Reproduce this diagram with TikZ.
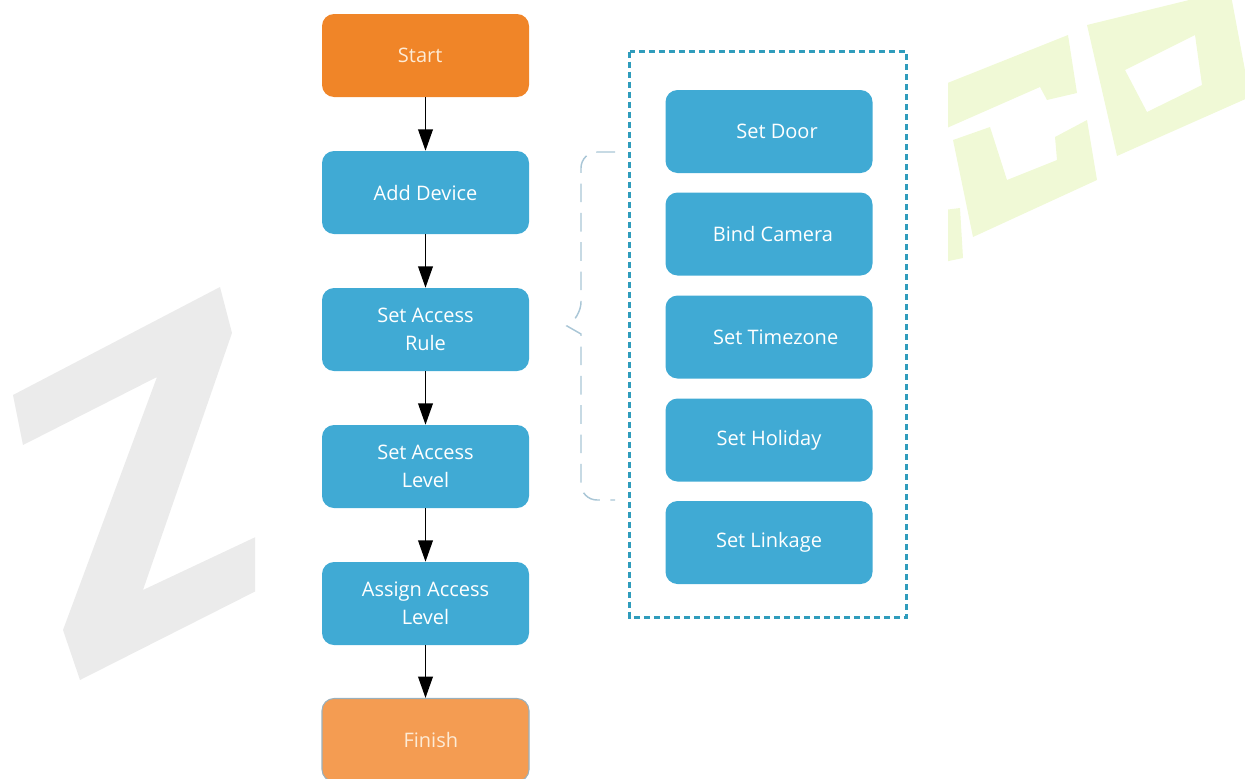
\documentclass[tikz,border=0pt]{standalone}
\usepackage{fontspec}
\setmainfont{Open Sans}
\usetikzlibrary{arrows.meta}
\definecolor{orangeA}{HTML}{F08528}
\definecolor{orangeB}{HTML}{F49C52}
\definecolor{finBorder}{HTML}{9AB0BC}
\definecolor{blueA}{HTML}{40AAD4}
\definecolor{dashC}{HTML}{2F9CBC}
\definecolor{braceC}{HTML}{A9C6D6}
\definecolor{wmGray}{HTML}{EBEBEB}
\definecolor{wmGreen}{HTML}{F0F9D6}
\definecolor{creamT}{HTML}{FDEBD6}
\begin{document}
\begin{tikzpicture}[x=0.75pt,y=-0.75pt,
  box/.style={rectangle, rounded corners=9pt, minimum width=155.25pt,
    minimum height=62.25pt, inner sep=0pt, align=center,
    font=\fontsize{15}{21}\selectfont, text=white, fill=blueA},
  startbox/.style={box, fill=orangeA, text=creamT},
  finishbox/.style={box, fill=orangeB, text=creamT, draw=finBorder, line width=0.8pt},
  flow/.style={draw=black, line width=1.2pt, -{Triangle[length=16pt,width=11pt]}},
  group/.style={draw=dashC, line width=2.25pt, dash pattern=on 4.5pt off 3pt},
  bracestyle/.style={draw=braceC, line width=1.1pt, dash pattern=on 14pt off 8pt, rounded corners=12pt}
]
\useasboundingbox (0,0) rectangle (1245,778);

% watermark
\begin{scope}
  \clip (0,0) rectangle (255,778);
  \fill[wmGray] (13,395) -- (220,287) -- (232,333) -- (143,590) -- (262,534)
    -- (262,588) -- (80,680) -- (63,630) -- (157,377) -- (23,445) -- cycle;
\end{scope}
\begin{scope}
  \clip (948,0) rectangle (1245,778);
  \fill[wmGreen] (940,86) -- (1068,35) -- (1077,93) -- (1047,100) -- (1040,87)
    -- (940,131) -- cycle;
  \fill[wmGreen] (953,140) -- (990,127) -- (1007,180) -- (1057,160) -- (1055,137)
    -- (1087,120) -- (1097,180) -- (973,237) -- cycle;
  \fill[wmGreen] (944,210) -- (960,208) -- (963,258) -- (944,262) -- cycle;
  \fill[wmGreen, even odd rule] (1087,25) -- (1230,-10) -- (1250,97) -- (1117,156) -- cycle
    (1125,70) -- (1195,35) -- (1202,85) -- (1147,112) -- cycle;
\end{scope}

% main flow
\node[startbox]  (start)  at (425.5,55.5)  {\hspace*{-8pt}Start};
\node[box]       (add)    at (425.5,192.5) {Add Device};
\node[box]       (rule)   at (425.5,329.5) {Set Access\\Rule};
\node[box]       (level)  at (425.5,466.5) {Set Access\\Level};
\node[box]       (assign) at (425.5,603.5) {Assign Access\\Level};
\node[finishbox] (finish) at (425.5,740)   {\hspace*{8pt}Finish};

\draw[flow] (start) -- (add);
\draw[flow] (add) -- (rule);
\draw[flow] (rule) -- (level);
\draw[flow] (level) -- (assign);
\draw[flow] (assign) -- (finish);

% grouped settings
\node[draw=none, minimum width=207pt, minimum height=424pt, inner sep=0pt] (grp) at (768,334.5) {};
\draw[group] (grp.north west) rectangle (grp.south east);

\node[box] (door)     at (769,131.5) {\hspace*{12pt}Set Door};
\node[box] (camera)   at (769,234)   {\hspace*{6pt}Bind Camera};
\node[box] (timezone) at (769,337)   {\hspace*{10pt}Set Timezone};
\node[box] (holiday)  at (769,440)   {Set Holiday};
\node[box] (linkage)  at (769,542.5) {Set Linkage};

% brace
\coordinate (bt) at (615,152);
\coordinate (bb) at (615,500);
\coordinate (tip) at (567,326);
\draw[bracestyle] (bt) -- (581,152) -- (581,318) [sharp corners] -- (tip) -- (581,334) [rounded corners=12pt] -- (581,500) -- (bb);
\end{tikzpicture}
\end{document}
